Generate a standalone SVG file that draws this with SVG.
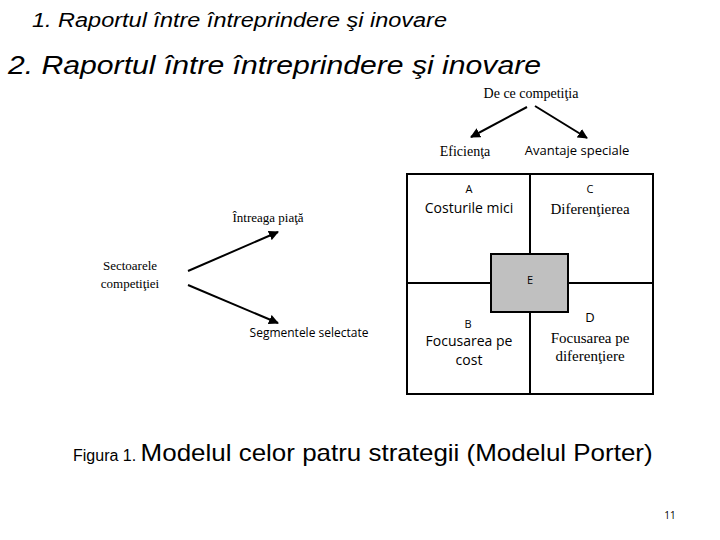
<svg xmlns="http://www.w3.org/2000/svg" width="720" height="540" viewBox="0 0 720 540">
<style>
.s{font-family:"Liberation Serif",serif;fill:#000}
.a{font-family:"Open Sans","Liberation Sans",sans-serif;fill:#000}
.h{font-family:"Liberation Sans",sans-serif;font-style:italic;fill:#000}
.ln{stroke:#000;stroke-width:2;fill:none}
</style>
<defs><marker id="m" viewBox="0 0 10 10" refX="9" refY="5" markerWidth="5" markerHeight="5" orient="auto"><path d="M0,0L10,5L0,10z"/></marker></defs>
<rect width="720" height="540" fill="#fff"/>
<text x="32" y="27" class="h" font-size="20" textLength="415" lengthAdjust="spacingAndGlyphs">1. Raportul între întreprindere şi inovare</text>
<text x="8" y="74" class="h" font-size="26" textLength="533" lengthAdjust="spacingAndGlyphs">2. Raportul între întreprindere şi inovare</text>
<g id="connectors" class="ln" marker-end="url(#m)">
<line x1="527" y1="107" x2="471" y2="137"/>
<line x1="535" y1="106" x2="587" y2="138"/>
<line x1="188" y1="271" x2="278" y2="232"/>
<line x1="188" y1="285" x2="278" y2="323"/>
</g>
<g id="header"><text x="531" y="98" class="s" font-size="14" text-anchor="middle">De ce competiţia</text>
<text x="465" y="156" class="s" font-size="14" text-anchor="middle">Eficienţa</text>
<text x="577" y="155" class="a" font-size="13" text-anchor="middle">Avantaje speciale</text></g>
<g id="grid">
<rect x="407" y="174" width="246" height="220" class="ln" stroke-width="3"/>
<line x1="530" y1="174" x2="530" y2="394" class="ln" stroke-width="3"/>
<line x1="407" y1="283" x2="653" y2="283" class="ln" stroke-width="3"/>
</g>
<g id="A"><text x="469" y="193" class="a" font-size="11" text-anchor="middle">A</text><text x="469" y="213" class="a" font-size="14" text-anchor="middle">Costurile mici</text></g>
<g id="C"><text x="590" y="193" class="a" font-size="11" text-anchor="middle">C</text><text x="590" y="214" class="s" font-size="15" text-anchor="middle">Diferenţierea</text></g>
<g id="E"><rect x="491" y="254" width="77" height="58" fill="#c0c0c0" stroke="#000" stroke-width="2"/><text x="530" y="284" class="a" font-size="11" text-anchor="middle">E</text></g>
<g id="B"><text x="468" y="328" class="a" font-size="11" text-anchor="middle">B</text><text x="469" y="346" class="a" font-size="14" text-anchor="middle">Focusarea pe</text><text x="469" y="365" class="a" font-size="14" text-anchor="middle">cost</text></g>
<g id="D"><text x="590" y="322" class="a" font-size="13" text-anchor="middle">D</text><text x="590" y="343" class="s" font-size="15" text-anchor="middle">Focusarea pe</text><text x="590" y="361" class="s" font-size="15" text-anchor="middle">diferenţiere</text></g>
<g id="sect"><text x="130" y="270" class="s" font-size="13" text-anchor="middle">Sectoarele</text><text x="130" y="288" class="s" font-size="13" text-anchor="middle">competiţiei</text></g>
<g id="intreaga"><text x="268" y="222" class="s" font-size="13" text-anchor="middle">Întreaga piaţă</text></g>
<g id="segm"><text x="309" y="337" class="a" font-size="12" text-anchor="middle">Segmentele selectate</text></g>
<text x="73" y="461" font-family="Liberation Sans,sans-serif" font-size="16">Figura 1. <tspan font-size="24" textLength="512" lengthAdjust="spacingAndGlyphs">Modelul celor patru strategii (Modelul Porter)</tspan></text>
<text x="670" y="519" class="a" font-size="10" text-anchor="middle" fill="#555">11</text>
</svg>
